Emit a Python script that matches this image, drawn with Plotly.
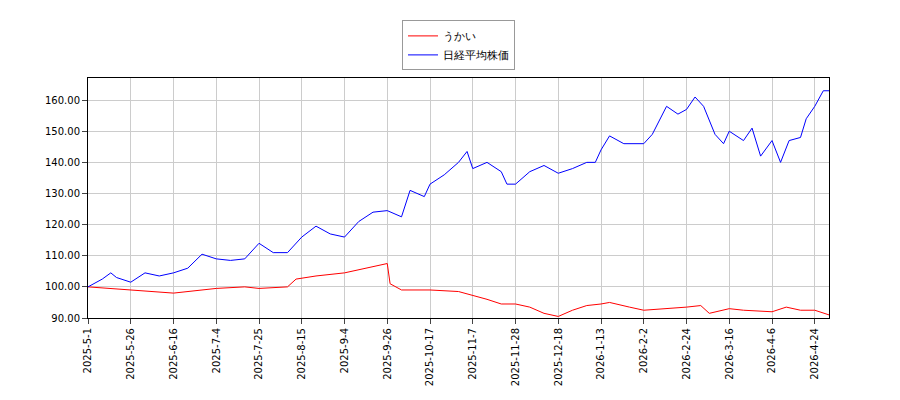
import plotly.graph_objects as go

tick_pos = [0,15,30,45,60,75,90,105,120,135,150,165,180,195,210,225,240,255]
tick_labels = ["2025-5-1","2025-5-26","2025-6-16","2025-7-4","2025-7-25","2025-8-15","2025-9-4","2025-9-26",
               "2025-10-17","2025-11-7","2025-11-28","2025-12-18","2026-1-13","2026-2-2","2026-2-24",
               "2026-3-16","2026-4-6","2026-4-24"]

nk_x = [0,5,8,10,15,20,25,30,35,40,45,50,55,60,65,70,75,80,85,90,95,100,105,110,113,118,120,125,130,133,135,140,145,147,150,155,160,165,170,175,178,180,183,188,195,198,203,207,210,213,216,220,223,225,230,233,236,240,243,246,250,252,255,258,260]
nk_y = [100,102.5,104.5,103,101.5,104.5,103.5,104.5,106,110.5,109,108.5,109,114,111,111,116,119.5,117,116,121,124,124.5,122.5,131,129,133,136,140,143.5,138,140,137,133,133,137,139,136.5,138,140,140,144,148.5,146,146,149,158,155.5,157,161,158,149,146,150,147,151,142,147,140,147,148,154,158,163,163]

uk_x = [0,15,20,30,45,55,60,70,73,80,90,100,105,106,110,120,130,140,145,150,155,160,165,170,175,180,183,190,195,210,215,218,225,230,240,245,250,255,258,260]
uk_y = [100,99,98.5,98,99.5,100,99.5,100,102.5,103.5,104.5,106.5,107.5,101,99,99,98.5,96,94.5,94.5,93.5,91.5,90.5,92.5,94,94.5,95,93.5,92.5,93.5,94,91.5,93,92.5,92,93.5,92.5,92.5,91.5,91]

fig = go.Figure()
fig.add_trace(go.Scatter(x=uk_x, y=uk_y, mode="lines", name="うかい", line=dict(color="red", width=1)))
fig.add_trace(go.Scatter(x=nk_x, y=nk_y, mode="lines", name="日経平均株価", line=dict(color="blue", width=1)))

ax = dict(showline=True, linecolor="black", mirror=True, gridcolor="#cccccc", ticks="outside",
          tickfont=dict(size=10, color="black"), zeroline=False, automargin=False)
fig.update_layout(
    width=900, height=400, margin=dict(l=80, r=79, t=70, b=90, autoexpand=False),
    plot_bgcolor="white", paper_bgcolor="white",
    font=dict(family="DejaVu Sans", size=11, color="black"),
    legend=dict(x=0.5, y=1.24, xanchor="center", yanchor="top", bordercolor="#999", borderwidth=1,
                bgcolor="white", font=dict(size=11), tracegroupgap=0),
    xaxis=dict(ax, range=[0, 260], tickvals=tick_pos, ticktext=tick_labels, tickangle=-90),
    yaxis=dict(ax, range=[90, 167.1], tickvals=[90,100,110,120,130,140,150,160], tickformat=".2f"),
)
fig.write_html("out.html")
